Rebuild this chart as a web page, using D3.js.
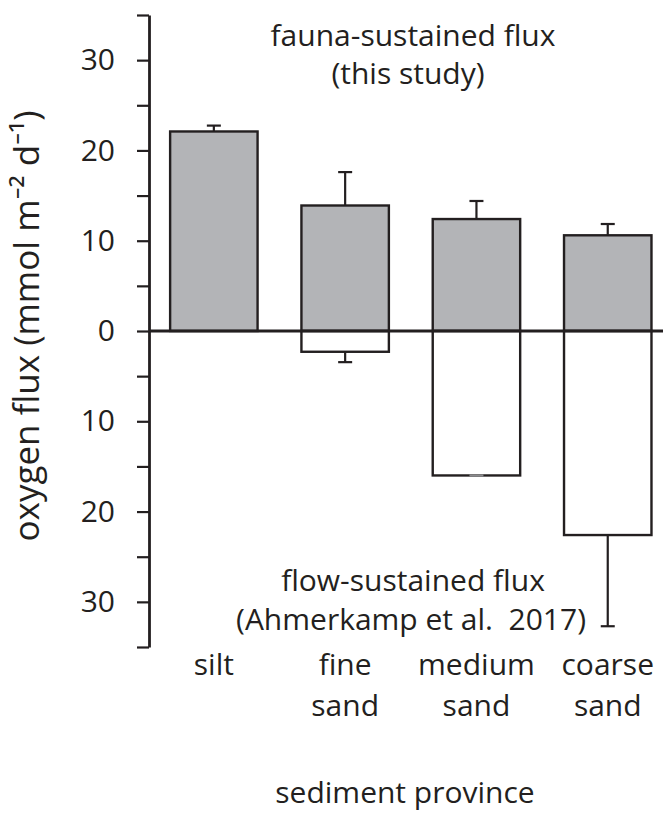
<!DOCTYPE html>
<html>
<head>
<meta charset="utf-8">
<script src="https://cdn.jsdelivr.net/npm/d3@7"></script>
<style>
  html, body { margin: 0; padding: 0; background: #fff; }
  svg { display: block; }
  text { font-family: "Open Sans", "Noto Sans", sans-serif; fill: #231f20; }
</style>
</head>
<body>
<div id="chart"></div>
<script>
// ---- data ----
const categories = ["silt", "fine sand", "medium sand", "coarse sand"];
const categoryLines = [["silt"], ["fine", "sand"], ["medium", "sand"], ["coarse", "sand"]];
const faunaFlux = [22.1, 13.9, 12.4, 10.6];          // fauna-sustained (this study)
const faunaErr = [0.65, 3.7, 2.0, 1.25];
const flowFlux = [null, 2.3, 16.0, 22.6];            // flow-sustained (Ahmerkamp et al. 2017), drawn downward
const flowErr = [null, 1.15, 0.0, 10.1];
const tickValues = [-35, -30, -25, -20, -15, -10, -5, 0, 5, 10, 15, 20, 25, 30, 35];
const labeledTicks = [-30, -20, -10, 0, 10, 20, 30];
const yTitle = "oxygen flux (mmol m\u207B\u00B2 d\u207B\u00B9)";
const xTitle = "sediment province";
const faunaLabel = ["fauna-sustained flux", "(this study)"];
const flowLabel = ["flow-sustained flux", "(Ahmerkamp et al.  2017)"];

// ---- layout ----
const W = 665, H = 836;
const ink = "#231f20", grey = "#b3b4b7";
const svg = d3.select("#chart").append("svg").attr("width", W).attr("height", H);

const y = d3.scaleLinear().domain([-35, 35]).range([647, 15]);
const x = d3.scaleBand().domain(categories).range([148.2, 673.4]).paddingInner(0.334).paddingOuter(0.167);
const axisX = 149;

// y axis
const yAxis = d3.axisLeft(y).tickValues(tickValues).tickSize(12).tickSizeOuter(0)
  .tickFormat(d => labeledTicks.includes(d) ? String(Math.abs(d)) : "");
const gAxis = svg.append("g").attr("transform", `translate(${axisX},0)`).call(yAxis);
gAxis.select(".domain").attr("stroke", ink).attr("stroke-width", 2.8);
gAxis.selectAll(".tick line").attr("stroke", ink).attr("stroke-width", 2.2);
gAxis.selectAll(".tick text").attr("x", -34).attr("font-size", 30).attr("fill", ink)
  .style("font-family", '"Open Sans", sans-serif');

// fauna bars (grey, upward)
const bars = svg.append("g");
bars.selectAll("rect.fauna").data(categories).join("rect")
  .attr("class", "fauna")
  .attr("x", d => x(d)).attr("width", x.bandwidth())
  .attr("y", (d, i) => y(faunaFlux[i])).attr("height", (d, i) => y(0) - y(faunaFlux[i]))
  .attr("fill", grey).attr("stroke", ink).attr("stroke-width", 2.4);

// flow bars (white, downward)
const flowIdx = categories.map((d, i) => i).filter(i => flowFlux[i] != null);
bars.selectAll("rect.flow").data(flowIdx).join("rect")
  .attr("class", "flow")
  .attr("x", i => x(categories[i])).attr("width", x.bandwidth())
  .attr("y", y(0)).attr("height", i => y(-flowFlux[i]) - y(0))
  .attr("fill", "#fff").attr("stroke", ink).attr("stroke-width", 2.4);

// error bars
const cx = d => x(d) + x.bandwidth() / 2;
const capHalf = 7;
const eb = svg.append("g").attr("stroke", ink).attr("stroke-width", 2.2);
categories.forEach((c, i) => {
  const top = faunaFlux[i] + faunaErr[i];
  eb.append("line").attr("x1", cx(c)).attr("x2", cx(c)).attr("y1", y(faunaFlux[i])).attr("y2", y(top));
  eb.append("line").attr("x1", cx(c) - capHalf).attr("x2", cx(c) + capHalf).attr("y1", y(top)).attr("y2", y(top));
});
flowIdx.forEach(i => {
  const c = categories[i];
  const bot = -(flowFlux[i] + flowErr[i]);
  eb.append("line").attr("x1", cx(c)).attr("x2", cx(c)).attr("y1", y(-flowFlux[i])).attr("y2", y(bot));
  eb.append("line").attr("x1", cx(c) - capHalf).attr("x2", cx(c) + capHalf).attr("y1", y(bot)).attr("y2", y(bot))
    .attr("stroke", flowErr[i] === 0 ? "#8a8a8c" : ink);
});

// zero line
svg.append("line").attr("x1", axisX).attr("x2", 663).attr("y1", y(0)).attr("y2", y(0))
  .attr("stroke", ink).attr("stroke-width", 2.8);

// annotations
const fs = 30;
svg.append("text").attr("x", 413).attr("y", 46).attr("text-anchor", "middle").attr("font-size", fs).text(faunaLabel[0]);
svg.append("text").attr("x", 408).attr("y", 84).attr("text-anchor", "middle").attr("font-size", fs).text(faunaLabel[1]);
svg.append("text").attr("x", 413).attr("y", 591).attr("text-anchor", "middle").attr("font-size", fs).text(flowLabel[0]);
svg.append("text").attr("x", 586).attr("y", 630).attr("text-anchor", "end").attr("font-size", fs)
  .style("white-space", "pre").text(flowLabel[1]);

// category labels
const catG = svg.append("g");
categories.forEach((c, i) => {
  const t = catG.append("text").attr("x", cx(c)).attr("y", 675).attr("text-anchor", "middle").attr("font-size", fs);
  categoryLines[i].forEach((ln, k) => {
    t.append("tspan").attr("x", cx(c)).attr("y", 675 + k * 41).text(ln);
  });
});

// axis titles
svg.append("text").attr("x", 405).attr("y", 803).attr("text-anchor", "middle").attr("font-size", fs).text(xTitle);
svg.append("text").attr("transform", "translate(39,326) rotate(-90)").attr("text-anchor", "middle")
  .attr("font-size", 35).text(yTitle);
</script>
</body>
</html>
